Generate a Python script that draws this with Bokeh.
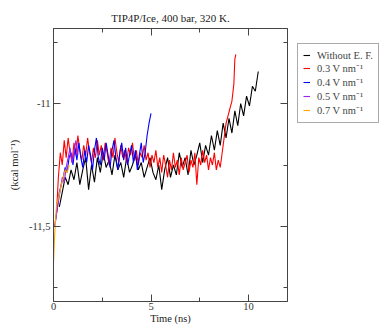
from bokeh.plotting import figure
from bokeh.layouts import row
from bokeh.models import (Range1d, FixedTicker, LinearAxis, Legend, LegendItem)
from bokeh.embed import file_html
from bokeh.resources import INLINE

title_text = "TIP4P/Ice, 400 bar, 320 K."
x_label = "Time (ns)"
y_label = "(kcal mol\u207b\u00b9)"
x_ticks = [0, 5, 10]
x_minor = [2.5, 7.5]
y_ticks = [-11.5, -11.0]
y_minor = [-11.75, -11.25, -10.75]
y_tick_labels = {-11.5: "-11,5", -11.0: "-11"}

labels = ["Without E. F.", "0.3 V nm\u207b\u00b9", "0.4 V nm\u207b\u00b9",
          "0.5 V nm\u207b\u00b9", "0.7 V nm\u207b\u00b9"]
colors = ["#000000", "#ff0000", "#0000ff", "#a020f0", "#ffa500"]

t_black = [0.30, 0.45, 0.60, 0.75, 0.90, 1.05, 1.20, 1.35, 1.50, 1.65, 1.80, 1.95,
           2.10, 2.25, 2.40, 2.55, 2.70, 2.85, 3.00, 3.15, 3.30, 3.45, 3.60, 3.75,
           3.90, 4.05, 4.20, 4.35, 4.50, 4.65, 4.80, 4.95, 5.10, 5.25, 5.40, 5.55,
           5.70, 5.85, 6.00, 6.15, 6.30, 6.45, 6.60, 6.75, 6.90, 7.05, 7.20, 7.35,
           7.50, 7.65, 7.80, 7.95, 8.10, 8.25, 8.40, 8.55, 8.70, 8.85, 9.00, 9.15,
           9.30, 9.45, 9.60, 9.75, 9.90, 10.05, 10.20, 10.35, 10.50]
e_black = [-11.42, -11.36, -11.30, -11.33, -11.27, -11.31, -11.24, -11.33, -11.27, -11.22,
           -11.35, -11.25, -11.32, -11.22, -11.28, -11.20, -11.26, -11.23, -11.29, -11.21,
           -11.27, -11.24, -11.30, -11.22, -11.28, -11.25, -11.21, -11.27, -11.24, -11.30,
           -11.26, -11.22, -11.28, -11.31, -11.25, -11.35, -11.27, -11.22, -11.30, -11.25,
           -11.29, -11.20, -11.26, -11.22, -11.29, -11.19, -11.25, -11.21, -11.16, -11.24,
           -11.17, -11.21, -11.13, -11.19, -11.11, -11.17, -11.08, -11.14, -11.06, -11.12,
           -11.03, -11.09, -11.00, -11.05, -10.97, -11.01, -10.93, -10.95, -10.87]

t_red = [0.15, 0.25, 0.35, 0.45, 0.55, 0.65, 0.75, 0.85, 0.95, 1.05, 1.15, 1.25,
         1.35, 1.45, 1.55, 1.65, 1.75, 1.85, 1.95, 2.05, 2.15, 2.25, 2.35, 2.45,
         2.55, 2.65, 2.75, 2.85, 2.95, 3.05, 3.15, 3.25, 3.35, 3.45, 3.55, 3.65,
         3.75, 3.85, 3.95, 4.05, 4.15, 4.25, 4.35, 4.45, 4.55, 4.65, 4.75, 4.85,
         4.95, 5.05, 5.15, 5.25, 5.35, 5.45, 5.55, 5.65, 5.75, 5.85, 5.95, 6.05,
         6.15, 6.25, 6.35, 6.45, 6.55, 6.65, 6.75, 6.85, 6.95, 7.05, 7.15, 7.25,
         7.35, 7.45, 7.55, 7.65, 7.75, 7.85, 7.95, 8.05, 8.15, 8.25, 8.35, 8.45,
         8.55, 8.65, 8.75, 8.85, 8.95, 9.05, 9.15, 9.25, 9.30, 9.35]
e_red = [-11.45, -11.30, -11.20, -11.25, -11.15, -11.22, -11.14, -11.20, -11.24, -11.16,
         -11.21, -11.13, -11.19, -11.23, -11.17, -11.21, -11.14, -11.20, -11.24, -11.18,
         -11.22, -11.15, -11.21, -11.17, -11.23, -11.16, -11.20, -11.25, -11.18, -11.22,
         -11.14, -11.20, -11.24, -11.17, -11.22, -11.19, -11.24, -11.18, -11.21, -11.16,
         -11.23, -11.19, -11.25, -11.20, -11.22, -11.17, -11.23, -11.20, -11.26, -11.21,
         -11.24, -11.19, -11.26, -11.22, -11.28, -11.21, -11.25, -11.30, -11.23, -11.27,
         -11.20, -11.26, -11.23, -11.29, -11.22, -11.27, -11.24, -11.21, -11.28, -11.23,
         -11.26, -11.20, -11.33, -11.22, -11.25, -11.19, -11.24, -11.21, -11.27, -11.22,
         -11.25, -11.20, -11.27, -11.23, -11.26, -11.20, -11.14, -11.08, -11.05, -11.02,
         -10.99, -10.92, -10.82, -10.80]

t_blue = [0.10, 0.20, 0.30, 0.40, 0.50, 0.60, 0.70, 0.80, 0.90, 1.00, 1.10, 1.20,
          1.30, 1.40, 1.50, 1.60, 1.70, 1.80, 1.90, 2.00, 2.10, 2.20, 2.30, 2.40,
          2.50, 2.60, 2.70, 2.80, 2.90, 3.00, 3.10, 3.20, 3.30, 3.40, 3.50, 3.60,
          3.70, 3.80, 3.90, 4.00, 4.10, 4.20, 4.30, 4.40, 4.50, 4.60, 4.70, 4.80,
          4.90, 5.00]
e_blue = [-11.48, -11.42, -11.36, -11.33, -11.30, -11.26, -11.28, -11.22, -11.20, -11.25,
          -11.18, -11.23, -11.16, -11.22, -11.26, -11.19, -11.24, -11.17, -11.21, -11.27,
          -11.19, -11.14, -11.22, -11.25, -11.18, -11.23, -11.16, -11.21, -11.26, -11.19,
          -11.15, -11.22, -11.27, -11.20, -11.16, -11.23, -11.18, -11.25, -11.21, -11.17,
          -11.24, -11.19, -11.27, -11.21, -11.16, -11.24, -11.20, -11.13, -11.08, -11.04]

t_purple = [0.05, 0.15, 0.25, 0.35, 0.45, 0.55, 0.65, 0.75, 0.85, 0.95, 1.05, 1.15, 1.25]
e_purple = [-11.50, -11.45, -11.40, -11.35, -11.30, -11.32, -11.26, -11.22, -11.18,
            -11.24, -11.20, -11.15, -11.21]

t_orange = [0.00, 0.05, 0.10, 0.15, 0.20, 0.30, 0.40, 0.50, 0.60, 0.70, 0.80]
e_orange = [-11.65, -11.55, -11.48, -11.42, -11.40, -11.37, -11.33, -11.30, -11.27,
            -11.28, -11.25]

FONT = "Liberation Serif"
AX = "#444444"

p = figure(frame_width=234, frame_height=273, output_backend="svg",
           toolbar_location=None, x_range=Range1d(0, 12), y_range=Range1d(-11.805, -10.695),
           min_border_left=53, min_border_right=6, min_border_top=28, min_border_bottom=22)
p.title.text = title_text
p.title.align = "center"
p.title.text_font = FONT
p.title.text_font_size = "11px"
p.title.text_font_style = "normal"
p.title.text_color = "#222222"
p.title.offset = 0
p.title.standoff = 9
p.xgrid.visible = False
p.ygrid.visible = False
p.outline_line_color = AX
p.background_fill_color = "white"
p.border_fill_color = "white"

series = [(t_black, e_black), (t_red, e_red), (t_blue, e_blue),
          (t_purple, e_purple), (t_orange, e_orange)]
for (t, e), c in zip(series, colors):
    p.line(t, e, line_color=c, line_width=1.1)

def style(ax, show):
    ax.axis_line_color = AX
    ax.major_tick_line_color = AX
    ax.minor_tick_line_color = AX
    ax.major_tick_in = 7
    ax.major_tick_out = 0
    ax.minor_tick_in = 4
    ax.minor_tick_out = 0
    if show:
        ax.major_label_text_font = FONT
        ax.major_label_text_font_size = "10.5px"
        ax.major_label_text_color = "#333333"
        ax.axis_label_text_font = FONT
        ax.axis_label_text_font_size = "10.5px"
        ax.axis_label_text_font_style = "normal"
        ax.axis_label_text_color = "#222222"
    else:
        ax.major_label_text_font_size = "1px"
        ax.major_label_text_color = None
        ax.major_label_standoff = 0

p.xaxis.ticker = FixedTicker(ticks=x_ticks, minor_ticks=x_minor)
p.yaxis.ticker = FixedTicker(ticks=y_ticks, minor_ticks=y_minor)
p.yaxis.major_label_overrides = y_tick_labels
p.xaxis.axis_label = x_label
p.yaxis.axis_label = y_label
for ax in p.xaxis + p.yaxis:
    style(ax, True)
p.xaxis.major_label_standoff = 1
p.xaxis.axis_label_standoff = 0
p.yaxis.major_label_standoff = 3
p.yaxis.axis_label_standoff = 6

top = LinearAxis(ticker=FixedTicker(ticks=x_ticks, minor_ticks=x_minor))
style(top, False)
p.add_layout(top, "above")
right = LinearAxis(ticker=FixedTicker(ticks=y_ticks, minor_ticks=y_minor))
style(right, False)
p.add_layout(right, "right")

# legend panel: a second, axis-less figure beside the plot; it holds the same
# series, but its ranges keep them out of view, so only the legend shows
q = figure(width=88, height=325, output_backend="svg", toolbar_location=None,
           x_range=Range1d(100, 101), y_range=Range1d(100, 101),
           min_border_left=0, min_border_right=0, min_border_top=0, min_border_bottom=0)
q.axis.visible = False
q.xgrid.visible = False
q.ygrid.visible = False
q.outline_line_color = None
q.background_fill_color = "white"
q.border_fill_color = "white"
items = []
for (t, e), lab, c in zip(series, labels, colors):
    r = q.line(t, e, line_color=c, line_width=1.1)
    items.append(LegendItem(label=lab, renderers=[r]))

legend = Legend(items=items, location=(4, 177), margin=0, padding=5, spacing=0,
                label_text_font=FONT, label_text_font_size="10.5px",
                label_height=12, glyph_height=12, glyph_width=7, label_standoff=7,
                border_line_color="#555555", border_line_width=1,
                background_fill_alpha=1.0)
q.add_layout(legend, "center")

layout = row(p, q, spacing=0)
open("out.html", "w").write(file_html(layout, INLINE))
